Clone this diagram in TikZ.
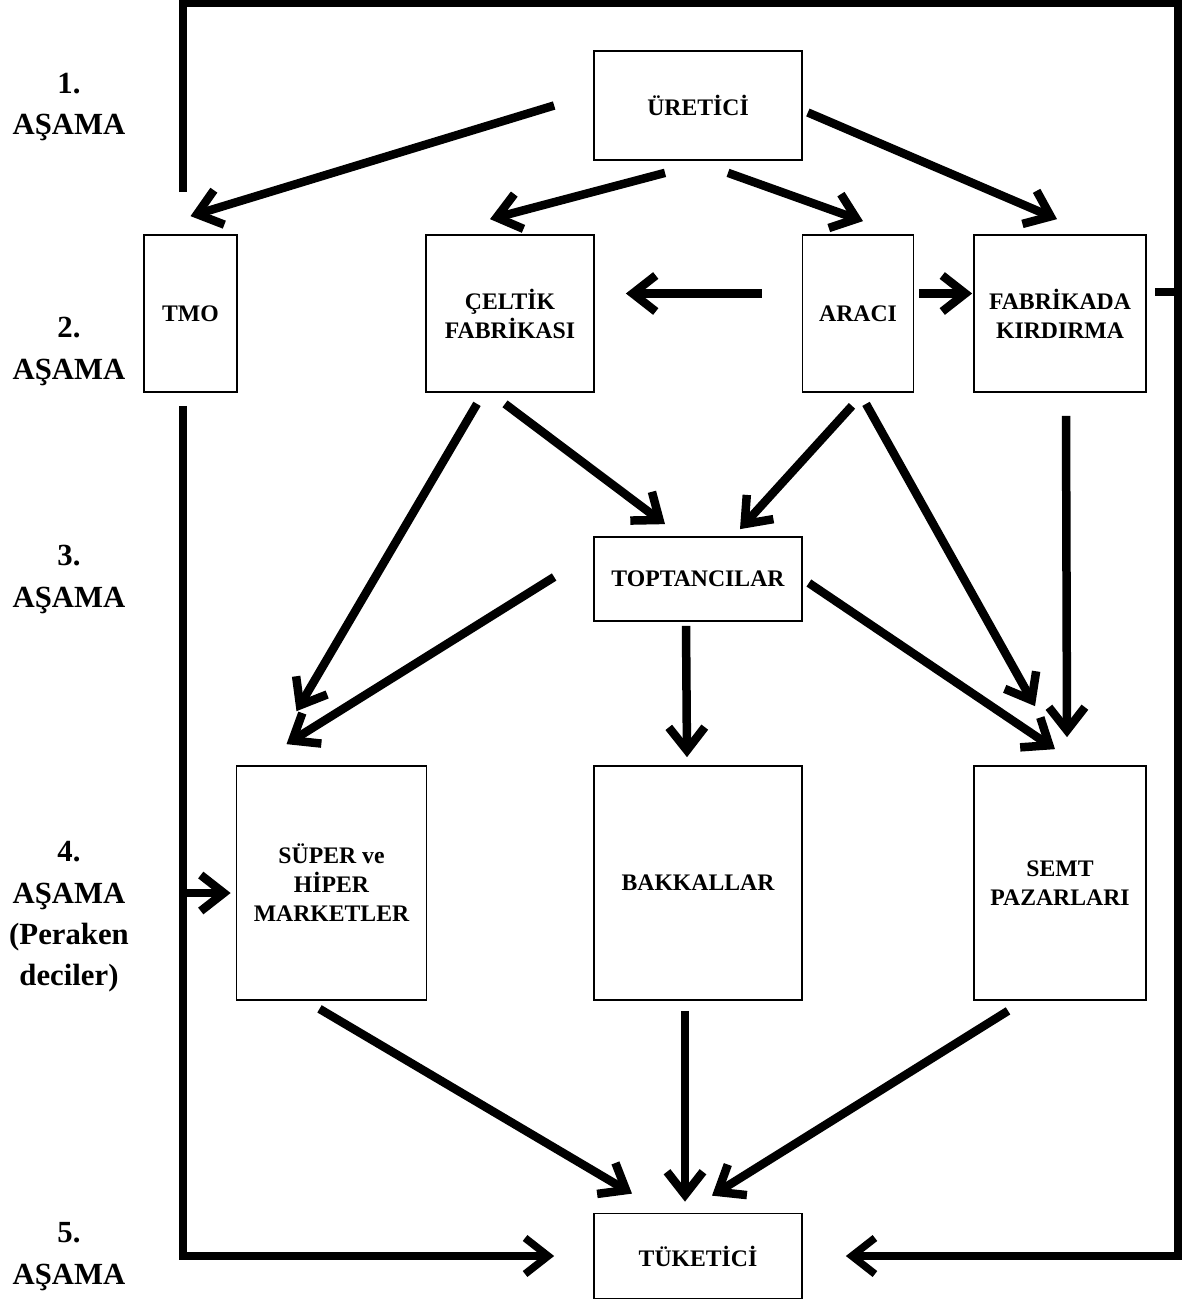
\documentclass[tikz,border=0pt]{standalone}
\usepackage{fontspec}
\setmainfont{Liberation Serif}
\usetikzlibrary{arrows.meta,calc}

\begin{document}
\begin{tikzpicture}
[
	              x = 0.02cm,
	              y = -0.02cm,
	             >= {Straight Barb[length=0.46cm,width=0.72cm]},
	    box/.style = { draw=black, line width=1pt, rectangle, inner sep=0pt, align=center,
	                   font=\fontsize{13.5}{16.5}\selectfont\bfseries },
	  stage/.style = { align=center, font=\fontsize{17.5}{23.5}\selectfont\bfseries },
	    arr/.style = { ->, line width=0.17cm },
	  frame/.style = { line width=0.15cm }
]
	\useasboundingbox (0,0) rectangle (1192,1301);

	% stages
	\node (stage1) at (69,107)    [stage] {1.\\AŞAMA};
	\node (stage2) at (69,351.5)  [stage] {2.\\AŞAMA};
	\node (stage3) at (69,579.5)  [stage] {3.\\AŞAMA};
	\node (stage4) at (69,917)    [stage] {4.\\AŞAMA\\(Peraken\\deciler)};
	\node (stage5) at (69,1256.5) [stage] {5.\\AŞAMA};

	% nodes
	\node (uretici)   at (698,105.5)   [box, minimum width=4.16cm, minimum height=2.18cm] {ÜRETİCİ};
	\node (tmo)       at (190.5,313.5) [box, minimum width=1.86cm, minimum height=3.14cm] {TMO};
	\node (celtik)    at (510,313.5)   [box, minimum width=3.36cm, minimum height=3.14cm] {ÇELTİK\\FABRİKASI};
	\node (araci)     at (858,313.5)   [box, minimum width=2.22cm, minimum height=3.14cm] {ARACI};
	\node (fabrikada) at (1060,313.5)  [box, minimum width=3.44cm, minimum height=3.14cm] {FABRİKADA\\KIRDIRMA};
	\node (toptanci)  at (698,579)     [box, minimum width=4.16cm, minimum height=1.68cm] {TOPTANCILAR};
	\node (super)     at (331.5,883)   [box, minimum width=3.80cm, minimum height=4.68cm] {SÜPER ve\\HİPER\\MARKETLER};
	\node (bakkal)    at (698,883)     [box, minimum width=4.16cm, minimum height=4.68cm] {BAKKALLAR};
	\node (semt)      at (1060,883)    [box, minimum width=3.44cm, minimum height=4.68cm] {SEMT\\PAZARLARI};
	\node (tuketici)  at (698,1256)    [box, minimum width=4.16cm, minimum height=1.70cm] {TÜKETİCİ};

	% frame
	\coordinate (tl)     at (183,3);
	\coordinate (tr)     at (1178,3);
	\coordinate (br)     at (1178,1256);
	\coordinate (bl)     at (183,1256);
	\coordinate (branch) at (183,893);
	\coordinate (stub)   at (1155,292);

	\draw [frame, ->] ($(tmo.north)+(-7.5,-42)$) -- (tl) -- (tr) -- (br) -- ($(tuketici.east)+(43,0)$);
	\draw [frame, ->] ($(tmo.south)+(-7.5,13)$) -- (bl) -- ($(tuketici.west)+(-39,0)$);
	\draw [frame] (stub) -- (stub -| tr);
	\draw [arr] (branch) -- ($(super.west)+(-5,10)$);

	% edges
	\draw [arr] ($(uretici.west)+(-39,0)$)   -- ($(tmo.north)+(0,-18)$);
	\draw [arr] ($(uretici.south)+(-33,12)$) -- ($(celtik.north)+(-20,-15)$);
	\draw [arr] ($(uretici.south)+(30,12)$)  -- ($(araci.north)+(5,-13)$);
	\draw [arr] ($(uretici.east)+(5,7)$)     -- ($(fabrikada.north)+(-3,-15)$);
	\draw [arr] ($(araci.west)+(-40,-20)$)   -- ($(celtik.east)+(31,-20)$);
	\draw [arr] ($(araci.east)+(5,-20)$)     -- ($(fabrikada.west)+(-1,-20)$);
	\draw [arr] ($(celtik.south)+(-5,11)$)   -- ($(toptanci.north)+(-33,-12)$);
	\draw [arr] ($(celtik.south)+(-33,11)$)  -- ($(super.north)+(-35,-54)$);
	\draw [arr] ($(araci.south)+(-6,13)$)    -- ($(toptanci.north)+(42,-7)$);
	\draw [arr] ($(araci.south)+(8,11)$)     -- ($(semt.north)+(-25,-59)$);
	\draw [arr] ($(fabrikada.south)+(6,23)$) -- ($(semt.north)+(7,-28)$);
	\draw [arr] ($(toptanci.west)+(-39,-2)$) -- ($(super.north)+(-45,-21)$);
	\draw [arr] ($(toptanci.south)+(-12,4)$) -- ($(bakkal.north)+(-11,-8)$);
	\draw [arr] ($(toptanci.east)+(6,4)$)    -- ($(semt.north)+(-5,-16)$);
	\draw [arr] ($(super.south)+(-12,8)$)    -- ($(tuketici.north)+(-66,-19)$);
	\draw [arr] ($(bakkal.south)+(-13,10)$)  -- ($(tuketici.north)+(-13,-11)$);
	\draw [arr] ($(semt.south)+(-52,10)$)    -- ($(tuketici.north)+(14,-17)$);
\end{tikzpicture}
\end{document}
